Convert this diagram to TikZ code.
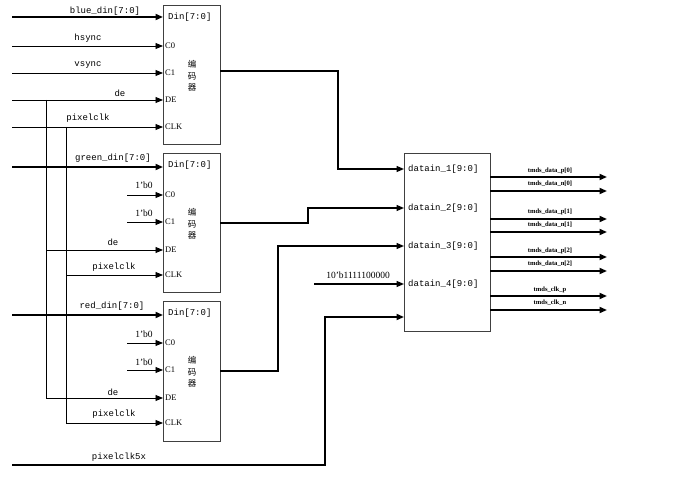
\documentclass[tikz,border=0pt]{standalone}
\usepackage{fontspec}
\setmainfont{Liberation Serif}
\setmonofont{Liberation Mono}
\newfontfamily\cjk{Noto Sans CJK SC}
\usetikzlibrary{arrows.meta}
\begin{document}
\begin{tikzpicture}[x=1pt,y=-1pt,
  thinw/.style={line width=0.9pt},
  busw/.style={line width=1.8pt},
  outw/.style={line width=1.4pt},
  arr/.style={-{Triangle[length=7.5pt,width=6pt]}},
  encbox/.style={draw=black!75, line width=1.2pt, minimum width=57pt, minimum height=139pt, inner sep=0pt, anchor=north west},
  lbl/.style={font=\ttfamily\fontsize{9}{10}\selectfont, inner sep=0pt},
  portl/.style={font=\fontsize{8.5}{9}\selectfont, anchor=west, inner sep=0pt},
  numl/.style={font=\fontsize{9.5}{10}\selectfont, inner sep=0pt},
  tmds/.style={font=\bfseries\fontsize{6.6}{7}\selectfont, inner sep=0pt},
  cjkl/.style={font=\cjk\fontsize{8.5}{11.5}\selectfont, align=center, inner sep=0pt}
]
\useasboundingbox (0,0) rectangle (678,484);

% encoder boxes
\node[encbox] (enc1) at (163,5) {};
\node[encbox] (enc2) at (163,153) {};
\node[encbox, minimum height=140pt] (enc3) at (163,301) {};
\node[draw=black!75, line width=1.2pt, minimum width=86pt, minimum height=178pt, inner sep=0pt, anchor=north west] (ser) at (404,153) {};

% Chinese labels
\node[cjkl] (c1) at (192,76) {编\\码\\器};
\node[cjkl] (c2) at (192,224) {编\\码\\器};
\node[cjkl] (c3) at (192,372) {编\\码\\器};

% port labels
\foreach \n/\yo in {1/0,2/148,3/296}{
  \node[lbl, anchor=west] (din\n) at (168,17+\yo) {Din[7:0]};
}
\node[portl] (p1c0) at (165,46) {C0};
\node[portl] (p1c1) at (165,73) {C1};
\node[portl] (p1de) at (165,100) {DE};
\node[portl] (p1ck) at (165,127) {CLK};
\node[portl] (p2c0) at (165,195) {C0};
\node[portl] (p2c1) at (165,222) {C1};
\node[portl] (p2de) at (165,250) {DE};
\node[portl] (p2ck) at (165,275) {CLK};
\node[portl] (p3c0) at (165,343) {C0};
\node[portl] (p3c1) at (165,370) {C1};
\node[portl] (p3de) at (165,398) {DE};
\node[portl] (p3ck) at (165,423) {CLK};

% coordinates
\coordinate (s1din) at (12,17);
\coordinate (s1hs) at (12,46);
\coordinate (s1vs) at (12,73);
\coordinate (s1de) at (12,100);
\coordinate (s1ck) at (12,127);
\coordinate (e1din) at (163,17);
\coordinate (e1c0) at (163,46);
\coordinate (e1c1) at (163,73);
\coordinate (e1de) at (163,100);
\coordinate (e1ck) at (163,127);
\coordinate (s2din) at (12,167);
\coordinate (e2din) at (163,167);
\coordinate (s2c0) at (127,195);
\coordinate (e2c0) at (163,195);
\coordinate (s2c1) at (127,222);
\coordinate (e2c1) at (163,222);
\coordinate (v2de) at (46,250);
\coordinate (e2de) at (163,250);
\coordinate (v2ck) at (66,275);
\coordinate (e2ck) at (163,275);
\coordinate (s3din) at (12,315);
\coordinate (e3din) at (163,315);
\coordinate (s3c0) at (127,343);
\coordinate (e3c0) at (163,343);
\coordinate (s3c1) at (127,370);
\coordinate (e3c1) at (163,370);
\coordinate (v1de) at (46,100);
\coordinate (v3de) at (46,398);
\coordinate (e3de) at (163,398);
\coordinate (v1ck) at (66,127);
\coordinate (v3ck) at (66,423);
\coordinate (e3ck) at (163,423);

% encoder 1 inputs
\draw[busw,arr] (s1din) -- (e1din);
\draw[thinw,arr] (s1hs) -- (e1c0);
\draw[thinw,arr] (s1vs) -- (e1c1);
\draw[thinw,arr] (s1de) -- (e1de);
\draw[thinw,arr] (s1ck) -- (e1ck);
% shared verticals
\draw[thinw] (v1de) -- (v3de);
\draw[thinw] (v1ck) -- (v3ck);
% encoder 2 inputs
\draw[busw,arr] (s2din) -- (e2din);
\draw[thinw,arr] (s2c0) -- (e2c0);
\draw[thinw,arr] (s2c1) -- (e2c1);
\draw[thinw,arr] (v2de) -- (e2de);
\draw[thinw,arr] (v2ck) -- (e2ck);
% encoder 3 inputs
\draw[busw,arr] (s3din) -- (e3din);
\draw[thinw,arr] (s3c0) -- (e3c0);
\draw[thinw,arr] (s3c1) -- (e3c1);
\draw[thinw,arr] (v3de) -- (e3de);
\draw[thinw,arr] (v3ck) -- (e3ck);

% input labels
\node[lbl] (lb1) at (105,11) {blue\_din[7:0]};
\node[lbl] (lhs) at (88,38) {hsync};
\node[lbl] (lvs) at (88,65) {vsync};
\node[lbl] (lde1) at (120,93) {de};
\node[lbl] (lck1) at (88,118) {pixelclk};
\node[lbl] (lg) at (113,158) {green\_din[7:0]};
\node[numl] (lz1) at (144,185) {1'b0};
\node[numl] (lz2) at (144,213) {1'b0};
\node[lbl] (lde2) at (113,242) {de};
\node[lbl] (lck2) at (114,267) {pixelclk};
\node[lbl] (lr) at (112,306) {red\_din[7:0]};
\node[numl] (lz3) at (144,334) {1'b0};
\node[numl] (lz4) at (144,362) {1'b0};
\node[lbl] (lde3) at (113,392) {de};
\node[lbl] (lck3) at (114,414) {pixelclk};
\node[lbl] (l5x) at (119,457) {pixelclk5x};
\node[numl] (lconst) at (358,275) {10'b1111100000};

% serializer inputs
\node[lbl, anchor=west] (d1) at (408,169) {datain\_1[9:0]};
\node[lbl, anchor=west] (d2) at (408,208) {datain\_2[9:0]};
\node[lbl, anchor=west] (d3) at (408,246) {datain\_3[9:0]};
\node[lbl, anchor=west] (d4) at (408,284) {datain\_4[9:0]};

\coordinate (o1) at (220,71);
\coordinate (i1) at (404,169);
\coordinate (o2) at (220,223);
\coordinate (i2) at (404,208);
\coordinate (o3) at (220,371);
\coordinate (i3) at (404,246);
\coordinate (sc) at (314,284);
\coordinate (i4) at (404,284);
\coordinate (s5x) at (12,465);
\coordinate (i5) at (404,317);

\draw[outw,arr] (o1) -- (338,71) -- (338,169) -- (i1);
\draw[outw,arr] (o2) -- (308,223) -- (308,208) -- (i2);
\draw[outw,arr] (o3) -- (278,371) -- (278,246) -- (i3);
\draw[outw,arr] (sc) -- (i4);
\draw[busw,arr] (s5x) -- (325,465) -- (325,317) -- (i5);

% outputs
\foreach \y/\t/\ty in {177/tmds\_data\_p[0]/171, 191/tmds\_data\_n[0]/184,
                      219/tmds\_data\_p[1]/212, 232/tmds\_data\_n[1]/225,
                      257/tmds\_data\_p[2]/251, 271/tmds\_data\_n[2]/264,
                      296/tmds\_clk\_p/290, 310/tmds\_clk\_n/303}{
  \coordinate (oa\y) at (490,\y);
  \coordinate (ob\y) at (607,\y);
  \draw[busw,arr] (oa\y) -- (ob\y);
  \node[tmds] (t\y) at (550,\ty) {\t};
}
\end{tikzpicture}
\end{document}
